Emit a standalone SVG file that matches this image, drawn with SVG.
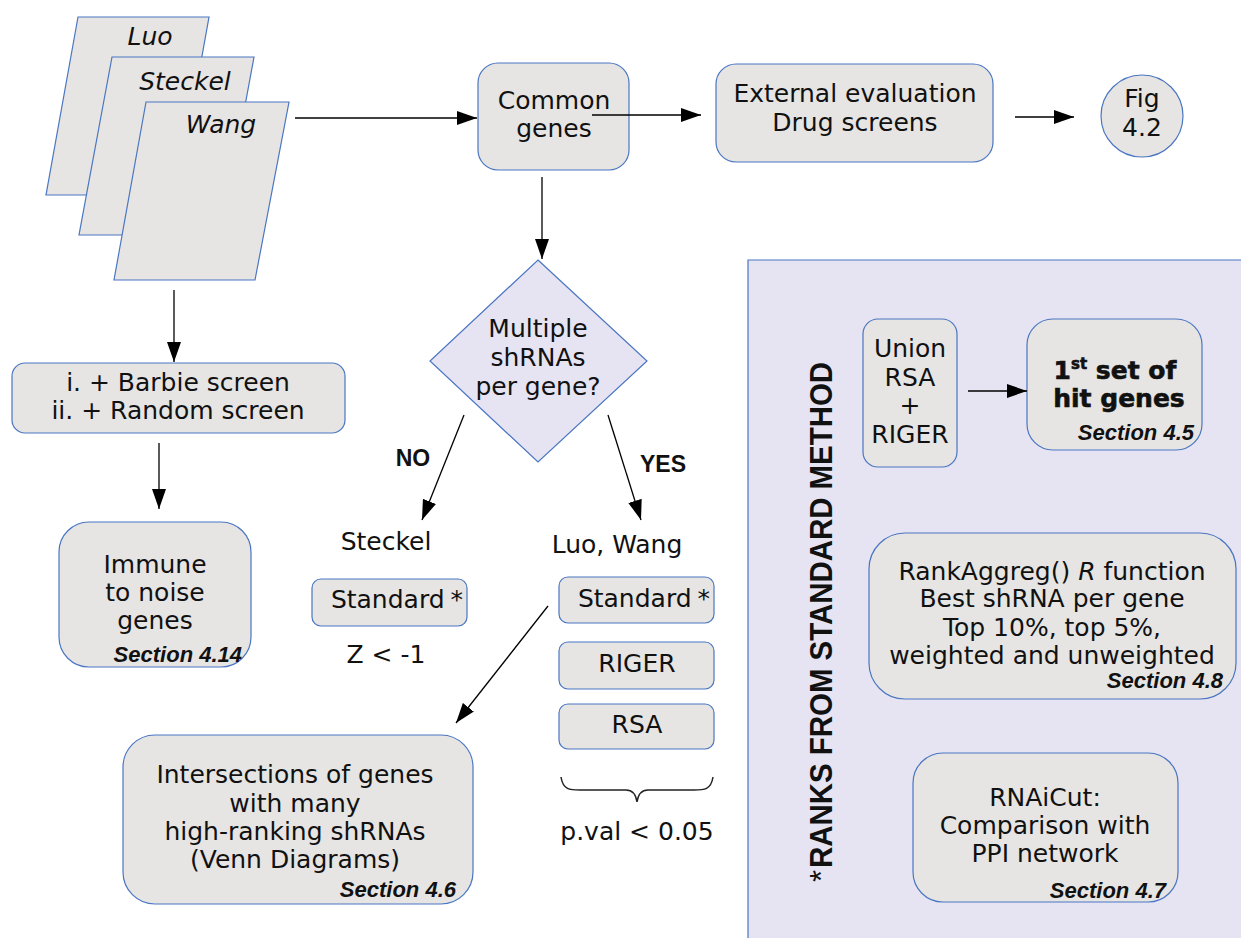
<svg xmlns="http://www.w3.org/2000/svg" width="1241" height="938" viewBox="0 0 1241 938">
  <defs>
    <marker id="arrow" viewBox="0 0 20 14" refX="20" refY="7" markerWidth="20" markerHeight="14" markerUnits="userSpaceOnUse" orient="auto">
      <path d="M0,0 L20,7 L0,14 Z" fill="#000"/>
    </marker>
    <style>
      .box { fill: #e6e5e4; stroke: #4a76c2; stroke-width: 1.2; }
      .lbl { font-family: "DejaVu Sans", sans-serif; font-size: 25px; fill: #111; text-anchor: middle; }
      .it { font-style: italic; }
      .sec { font-family: "Liberation Sans", Arial, sans-serif; font-size: 22px; font-weight: bold; font-style: italic; fill: #111; text-anchor: end; }
      .yn { font-family: "Liberation Sans", Arial, sans-serif; font-size: 23px; font-weight: bold; fill: #111; text-anchor: middle; }
      .hit { font-family: "DejaVu Sans", sans-serif; font-size: 25px; font-weight: bold; fill: #111; stroke: #111; stroke-width: 0.6; text-anchor: middle; }
      .conn { stroke: #000; stroke-width: 1.3; fill: none; }
    </style>
  </defs>

  <rect width="1241" height="938" fill="#fff"/>

  <!-- shaded region for ranks from the standard method -->
  <g id="ranks-panel">
    <rect x="748" y="260" width="500" height="690" fill="#e6e4f2"/>
    <path d="M1245,260 L748,260 L748,942" fill="none" stroke="#4a76c2" stroke-width="1.2"/>
    <text transform="translate(832,882) rotate(-90)" font-family="Liberation Sans, Arial, sans-serif" font-size="31" fill="#111"><tspan font-weight="normal">*</tspan><tspan font-weight="bold" dx="2" textLength="506" lengthAdjust="spacingAndGlyphs">RANKS FROM STANDARD METHOD</tspan></text>
  </g>

  <!-- stacked screen datasets -->
  <g id="datasets">
    <polygon class="box" points="78,17 209,17 177,195 46,195"/>
    <text class="lbl it" x="150" y="45">Luo</text>
    <polygon class="box" points="112,57 254,57 221,235 79,235"/>
    <text class="lbl it" x="185" y="90">Steckel</text>
    <polygon class="box" points="146,102 289,102 255,280 114,280"/>
    <text class="lbl it" x="221" y="133">Wang</text>
  </g>

  <g id="common-genes">
    <rect class="box" x="478" y="63" width="151" height="107" rx="20"/>
    <text class="lbl" x="554" y="109">Common</text>
    <text class="lbl" x="554" y="137">genes</text>
  </g>

  <g id="external-eval">
    <rect class="box" x="716" y="64" width="277" height="98" rx="20"/>
    <text class="lbl" x="855" y="102">External evaluation</text>
    <text class="lbl" x="855" y="131">Drug screens</text>
  </g>

  <g id="fig-ref">
    <circle class="box" cx="1142" cy="116" r="41"/>
    <text class="lbl" x="1142" y="107">Fig</text>
    <text class="lbl" x="1142" y="136">4.2</text>
  </g>

  <g id="decision">
    <polygon points="538,260 647,361 538,462 430,361" fill="#e6e4f2" stroke="#4a76c2" stroke-width="1.2"/>
    <text class="lbl" x="538" y="337">Multiple</text>
    <text class="lbl" x="538" y="366">shRNAs</text>
    <text class="lbl" x="538" y="395">per gene?</text>
  </g>

  <g id="label-no"><text class="yn" x="413" y="466">NO</text></g>
  <g id="label-yes"><text class="yn" x="663" y="472">YES</text></g>

  <g id="steckel">
    <text class="lbl" x="386" y="550">Steckel</text>
  </g>
  <g id="luo-wang">
    <text class="lbl" x="617" y="553">Luo, Wang</text>
  </g>

  <g id="standard-left">
    <rect class="box" x="312" y="579" width="155" height="47" rx="9"/>
    <text class="lbl" x="397" y="608">Standard<tspan dx="6">*</tspan></text>
    <text class="lbl" x="386" y="663">Z &lt; -1</text>
  </g>

  <g id="standard-right">
    <rect class="box" x="559" y="577" width="155" height="46" rx="9"/>
    <text class="lbl" x="644" y="607">Standard<tspan dx="6">*</tspan></text>
  </g>
  <g id="riger">
    <rect class="box" x="559" y="642" width="155" height="47" rx="9"/>
    <text class="lbl" x="637" y="672">RIGER</text>
  </g>
  <g id="rsa">
    <rect class="box" x="559" y="704" width="155" height="45" rx="9"/>
    <text class="lbl" x="637" y="733">RSA</text>
  </g>
  <g id="pval">
    <path d="M561,777 C563,790 570,790 580,790 L626,790 C633,790 636,795 637,802 C638,795 641,790 648,790 L694,790 C704,790 711,790 713,777" fill="none" stroke="#222" stroke-width="1.5"/>
    <text class="lbl" x="637" y="840">p.val &lt; 0.05</text>
  </g>

  <g id="intersections">
    <rect class="box" x="123" y="735" width="350" height="169" rx="32"/>
    <text class="lbl" x="295" y="783">Intersections of genes</text>
    <text class="lbl" x="295" y="812">with many</text>
    <text class="lbl" x="295" y="840">high-ranking shRNAs</text>
    <text class="lbl" x="295" y="868">(Venn Diagrams)</text>
    <text class="sec" x="456" y="897">Section 4.6</text>
  </g>

  <g id="added-screens">
    <rect class="box" x="12" y="363" width="333" height="70" rx="13"/>
    <text class="lbl" x="178" y="391">i. + Barbie screen</text>
    <text class="lbl" x="178" y="419">ii. +  Random screen</text>
  </g>

  <g id="immune">
    <rect class="box" x="59" y="522" width="192" height="145" rx="30"/>
    <text class="lbl" x="155" y="573">Immune</text>
    <text class="lbl" x="155" y="601">to noise</text>
    <text class="lbl" x="155" y="629">genes</text>
    <text class="sec" x="242" y="662">Section 4.14</text>
  </g>

  <g id="union">
    <rect class="box" x="863" y="319" width="94" height="148" rx="15"/>
    <text class="lbl" x="910" y="357">Union</text>
    <text class="lbl" x="910" y="386">RSA</text>
    <text class="lbl" x="910" y="414">+</text>
    <text class="lbl" x="910" y="443">RIGER</text>
  </g>

  <g id="hit-genes">
    <rect class="box" x="1027" y="319" width="175" height="131" rx="26"/>
    <text class="hit" x="1115" y="379">1<tspan font-size="15" dy="-10">st</tspan><tspan dy="10"> set of</tspan></text>
    <text class="hit" x="1119" y="407">hit genes</text>
    <text class="sec" x="1194" y="440">Section 4.5</text>
  </g>

  <g id="rankaggreg">
    <rect class="box" x="869" y="533" width="367" height="166" rx="36"/>
    <text class="lbl" x="1052" y="580">RankAggreg() <tspan font-style="italic">R</tspan> function</text>
    <text class="lbl" x="1052" y="607">Best shRNA per gene</text>
    <text class="lbl" x="1052" y="636">Top 10%, top 5%,</text>
    <text class="lbl" x="1052" y="664">weighted and unweighted</text>
    <text class="sec" x="1223" y="688">Section 4.8</text>
  </g>

  <g id="rnaicut">
    <rect class="box" x="913" y="753" width="265" height="149" rx="30"/>
    <text class="lbl" x="1045" y="806">RNAiCut:</text>
    <text class="lbl" x="1045" y="834">Comparison with</text>
    <text class="lbl" x="1045" y="862">PPI network</text>
    <text class="sec" x="1166" y="898">Section 4.7</text>
  </g>

  <g id="connectors">
    <line class="conn" x1="295" y1="118" x2="477" y2="118" marker-end="url(#arrow)"/>
    <line class="conn" x1="592" y1="115" x2="701" y2="115" marker-end="url(#arrow)"/>
    <line class="conn" x1="1015" y1="117" x2="1074" y2="117" marker-end="url(#arrow)"/>
    <line class="conn" x1="542" y1="177" x2="542" y2="259" marker-end="url(#arrow)"/>
    <line class="conn" x1="464" y1="415" x2="422" y2="520" marker-end="url(#arrow)"/>
    <line class="conn" x1="608" y1="415" x2="641" y2="520" marker-end="url(#arrow)"/>
    <line class="conn" x1="548" y1="606" x2="456" y2="723" marker-end="url(#arrow)"/>
    <line class="conn" x1="174" y1="290" x2="174" y2="362" marker-end="url(#arrow)"/>
    <line class="conn" x1="159" y1="443" x2="159" y2="509" marker-end="url(#arrow)"/>
    <line class="conn" x1="968" y1="391" x2="1027" y2="391" marker-end="url(#arrow)"/>
  </g>
</svg>
